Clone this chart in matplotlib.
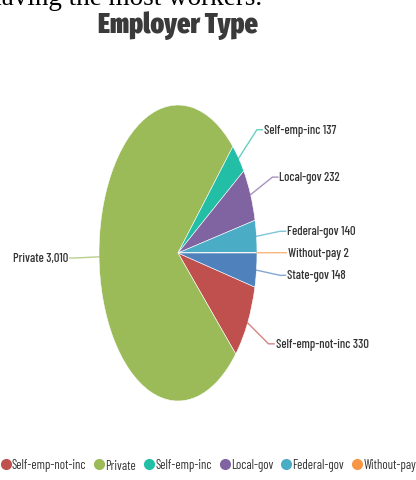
import numpy as np
import matplotlib.pyplot as plt
from matplotlib.lines import Line2D

labels = ["Self-emp-not-inc", "Private", "Self-emp-inc", "Local-gov",
          "Federal-gov", "Without-pay", "State-gov"]
values = [330, 3010, 137, 232, 140, 2, 148]
colors = ["#c0504d", "#9bbb59", "#23bea6", "#8064a2", "#4bacc6", "#f79646", "#4f81bd"]

W, H = 416, 481
narrow = ["Barlow Condensed", "DejaVu Sans"]
title_font = ["Fira Sans Extra Condensed", "Encode Sans Extra Condensed", "Barlow Condensed"]
txt_color = "#333333"

fig = plt.figure(figsize=(W / 100, H / 100), dpi=100)

# cut-off sentence from the page above the chart
fig.text(262 / W, 1 - 5 / H, "having the most workers.", ha="right", va="baseline",
         fontsize=19.5, family="Liberation Serif", color="black")

fig.text(178 / W, 1 - 26 / H, "Employer Type", ha="center", va="center",
         fontsize=20, weight=900, family=title_font, color="#3a3a3a")

# pie drawn in an elliptical box (stretched vertically like the source)
ax = fig.add_axes([99 / W, (H - 402) / H, 158 / W, 296 / H])
total = sum(values)
start = -360 * values[-1] / total
wedges, _ = ax.pie(values, colors=colors, startangle=start, counterclock=False,
                   radius=1, wedgeprops=dict(edgecolor="white", linewidth=0.4))
ax.set_aspect("auto")
ax.set_xlim(-1, 1)
ax.set_ylim(-1, 1)
ax.axis("off")

for w, lab, val, col in zip(wedges, labels, values, colors):
    ang = np.deg2rad((w.theta1 + w.theta2) / 2)
    x0, y0 = np.cos(ang), np.sin(ang)
    x1, y1 = 1.3 * x0, 1.3 * y0
    side = 1 if x0 >= 0 else -1
    x2 = x1 + side * 0.07
    ax.plot([x0, x1, x2], [y0, y1, y1], color=col, alpha=0.7, lw=1, clip_on=False)
    ax.text(x2 + side * 0.02, y1, f"{lab} {val:,}", ha="left" if side > 0 else "right",
            va="center", fontsize=9, weight=500, family=narrow, color=txt_color,
            clip_on=False)

handles = [Line2D([], [], marker="o", ls="none", markersize=7, color=c) for c in colors]
fig.legend(handles, labels, loc="center left", bbox_to_anchor=(0.005, 1 - 466 / H),
           ncol=7, frameon=False, borderpad=0, borderaxespad=0, handlelength=0.55,
           handletextpad=0.2, columnspacing=0.75,
           prop=dict(family=narrow, size=9.2), labelcolor=txt_color)

fig.savefig("out.png", dpi=100)
